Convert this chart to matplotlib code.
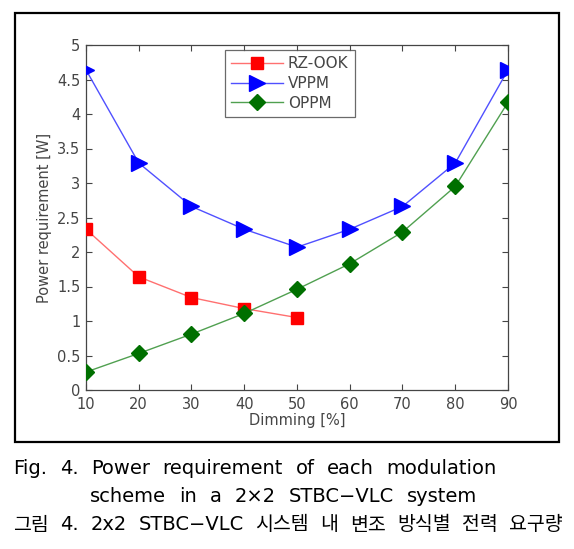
import matplotlib
matplotlib.use("Agg")
import matplotlib.pyplot as plt
from matplotlib.patches import Rectangle

dimming = [10, 20, 30, 40, 50, 60, 70, 80, 90]
rz_x = [10, 20, 30, 40, 50]
rz_ook = [2.33, 1.64, 1.34, 1.18, 1.05]
vppm = [4.64, 3.29, 2.66, 2.33, 2.07, 2.33, 2.66, 3.29, 4.64]
oppm = [0.26, 0.53, 0.81, 1.11, 1.46, 1.83, 2.29, 2.95, 4.17]
yticks = [0, 0.5, 1, 1.5, 2, 2.5, 3, 3.5, 4, 4.5, 5]
ytick_labels = ["0", "0.5", "1", "1.5", "2", "2.5", "3", "3.5", "4", "4.5", "5"]
captions = [
    "Fig. 4. Power requirement of each modulation",
    "scheme in a 2×2 STBC−VLC system",
    "그림 4. 2x2 STBC−VLC 시스템 내 변조 방식별 전력 요구량",
]

W, H = 574, 549
fig = plt.figure(figsize=(W / 100, H / 100), dpi=100)
fig.patch.set_facecolor("white")

# axes position in pixels: left 86, right 508, top 45, bottom 390
ax = fig.add_axes([86 / W, 1 - 390 / H, (508 - 86) / W, (390 - 45) / H])

gray = "#454545"
ax.plot(rz_x, rz_ook, color="#ff7070", lw=1.0, marker="s", ms=9,
        mfc="#ff0000", mec="#ff0000", label="RZ-OOK", zorder=3)
ax.plot(dimming, vppm, color="#5050ff", lw=1.0, marker=">", ms=12,
        mfc="#0000ff", mec="#0000ff", label="VPPM", zorder=3)
ax.plot(dimming, oppm, color="#50a050", lw=1.0, marker="D", ms=8,
        mfc="#007000", mec="#007000", label="OPPM", zorder=4)

ax.set_xlim(10, 90)
ax.set_ylim(0, 5)
ax.set_xticks(dimming)
ax.set_yticks(yticks)
ax.set_yticklabels(ytick_labels)
ax.tick_params(direction="in", top=True, right=True, length=4, width=0.8,
               colors=gray, labelsize=10.5, labelcolor=gray)
ax.tick_params(axis="x", pad=5)
ax.tick_params(axis="y", pad=4)
for s in ax.spines.values():
    s.set_color(gray)
    s.set_linewidth(0.9)
ax.set_xlabel("Dimming [%]", fontsize=10.5, color=gray, labelpad=1)
ax.set_ylabel("Power requirement [W]", fontsize=10.5, color=gray, labelpad=4)

leg = ax.legend(loc="upper center", bbox_to_anchor=(0.483, 1.0), fontsize=11,
                frameon=True, fancybox=False, borderpad=0.4, handlelength=3.4,
                labelspacing=0.3, handletextpad=0.3, borderaxespad=0.35)
leg.get_frame().set_edgecolor(gray)
leg.get_frame().set_linewidth(0.9)
for t in leg.get_texts():
    t.set_color(gray)

# outer frame
fig.patches.append(Rectangle((15 / W, 1 - 442 / H), (559 - 15) / W, (442 - 13) / H,
                             transform=fig.transFigure, fill=False,
                             edgecolor="black", lw=1.6))

# captions: words spread to span the reference line widths
fam = ["DejaVu Sans", "Noto Sans CJK KR"]
spans = [(13, 497, 469), (90, 477, 497), (13, 563, 525)]
renderer = fig.canvas.get_renderer()
for line, (x0, x1, yc) in zip(captions, spans):
    words = line.split(" ")
    texts = []
    widths = []
    for w in words:
        t = fig.text(0, 1 - yc / H, w, fontsize=14, family=fam,
                     va="center", ha="left", color="black")
        bb = t.get_window_extent(renderer)
        texts.append(t)
        widths.append(bb.width)
    gap = (x1 - x0 - sum(widths)) / max(len(words) - 1, 1)
    x = x0
    for t, wd in zip(texts, widths):
        t.set_x(x / W)
        x += wd + gap

fig.savefig("out.png", dpi=100)
